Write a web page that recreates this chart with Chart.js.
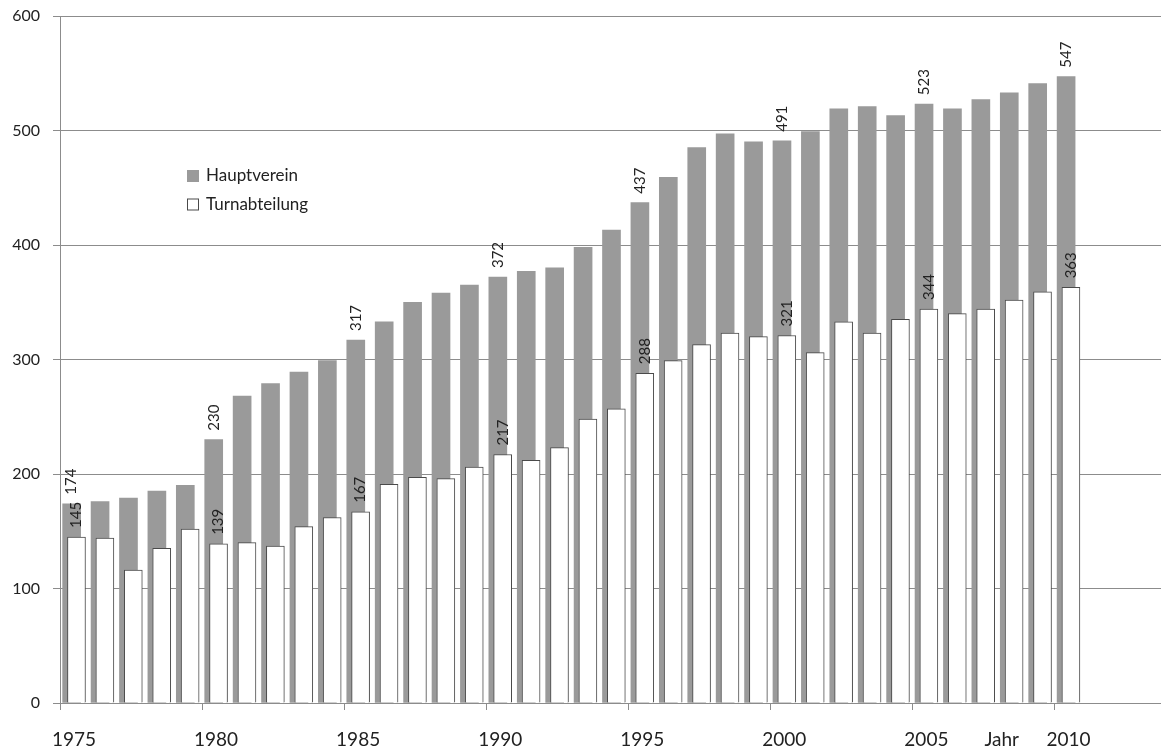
<!DOCTYPE html>
<html lang="de">
<head>
<meta charset="utf-8">
<title>Hauptverein und Turnabteilung 1975–2010</title>
<script src="https://cdn.jsdelivr.net/npm/chart.js@4/dist/chart.umd.min.js"></script>
<style>
  html, body { margin: 0; background: #fff; }
  #wrap { width: 1161px; height: 750px; }
</style>
</head>
<body>
<div id="wrap"><canvas id="chart"></canvas></div>
<script>
// Jahre und Mitgliederzahlen
const years = [1975, 1976, 1977, 1978, 1979, 1980, 1981, 1982, 1983, 1984,
               1985, 1986, 1987, 1988, 1989, 1990, 1991, 1992, 1993, 1994,
               1995, 1996, 1997, 1998, 1999, 2000, 2001, 2002, 2003, 2004,
               2005, 2006, 2007, 2008, 2009, 2010];
const hauptverein = [174, 176, 179, 185, 190, 230, 268, 279, 289, 299,
                     317, 333, 350, 358, 365, 372, 377, 380, 398, 413,
                     437, 459, 485, 497, 490, 491, 499, 519, 521, 513,
                     523, 519, 527, 533, 541, 547];
const turnabteilung = [145, 144, 116, 135, 152, 139, 140, 137, 154, 162,
                       167, 191, 197, 196, 206, 217, 212, 223, 248, 257,
                       288, 299, 313, 323, 320, 321, 306, 333, 323, 335,
                       344, 340, 344, 352, 359, 363];
// Jahre mit Zahlenbeschriftung und Achsenbeschriftung
const labelledYears = [1975, 1980, 1985, 1990, 1995, 2000, 2005, 2010];
const yTicks = [0, 100, 200, 300, 400, 500, 600];
const axisTitle = 'Jahr';

// Darstellung
const FONT = 'Lato, "Open Sans", sans-serif';
const GRAY = '#9a9a9a';
const LINE = '#8c8c8c';
const jahrPos = 2007.65;   // Stelle der Achsenbeschriftung "Jahr"
const xMax = 2013.75;

// Balken als {x, y}: Balken sitzen innerhalb des Jahresintervalls
const grayData = years.map((y, i) => ({ x: y + 0.41, y: hauptverein[i] }));
const whiteData = years.map((y, i) => ({ x: y + 0.58, y: turnabteilung[i] }));

// Zahlen senkrecht über ausgewählten Balken
const valueLabels = {
  id: 'valueLabels',
  afterDatasetsDraw(chart) {
    const ctx = chart.ctx;
    ctx.save();
    ctx.font = '15px ' + FONT;
    ctx.fillStyle = '#222';
    ctx.textAlign = 'left';
    ctx.textBaseline = 'middle';
    chart.data.datasets.forEach((ds, di) => {
      const meta = chart.getDatasetMeta(di);
      meta.data.forEach((bar, i) => {
        if (!labelledYears.includes(years[i])) return;
        ctx.save();
        ctx.translate(bar.x, bar.y - 9);
        ctx.rotate(-Math.PI / 2);
        ctx.fillText(String(ds.data[i].y), 0, 0);
        ctx.restore();
      });
    });
    ctx.restore();
  }
};

// Legende innerhalb der Zeichenfläche
const innerLegend = {
  id: 'innerLegend',
  afterDraw(chart) {
    const { ctx, chartArea } = chart;
    const x = chartArea.left + 127;
    const y0 = chartArea.top + 160;
    ctx.save();
    ctx.font = '17px ' + FONT;
    ctx.textBaseline = 'middle';
    chart.data.datasets.forEach((ds, i) => {
      const y = y0 + i * 28.5;
      ctx.fillStyle = ds.backgroundColor;
      ctx.fillRect(x, y - 6, 12, 12);
      if (ds.borderWidth) {
        ctx.strokeStyle = ds.borderColor;
        ctx.lineWidth = 1;
        ctx.strokeRect(x + 0.5, y - 5.5, 11, 11);
      }
      ctx.fillStyle = '#222';
      ctx.fillText(ds.label, x + 19, y);
    });
    ctx.restore();
  }
};

new Chart(document.getElementById('chart'), {
  type: 'bar',
  data: {
    datasets: [{
      label: 'Hauptverein',
      data: grayData,
      backgroundColor: GRAY,
      borderWidth: 0,
      order: 2
    }, {
      label: 'Turnabteilung',
      data: whiteData,
      backgroundColor: '#ffffff',
      borderColor: '#4a4a4a',
      borderWidth: 1,
      order: 1
    }]
  },
  options: {
    responsive: true,
    maintainAspectRatio: false,
    animation: false,
    grouped: false,
    barThickness: 18,
    layout: { padding: { top: 16, right: 0, bottom: 0, left: 0 } },
    plugins: {
      legend: { display: false },
      tooltip: { enabled: false }
    },
    scales: {
      x: {
        type: 'linear',
        min: 1975,
        max: xMax,
        offset: false,
        afterBuildTicks(scale) {
          const vals = labelledYears.concat([jahrPos]).sort((a, b) => a - b);
          scale.ticks = vals.map(v => ({ value: v }));
        },
        afterFit(scale) { scale.height = 47; },
        grid: {
          offset: false,
          drawOnChartArea: false,
          drawTicks: true,
          tickLength: 7,
          color: ctx => (ctx.tick && ctx.tick.value === jahrPos) ? 'rgba(0,0,0,0)' : LINE
        },
        border: { color: LINE },
        ticks: {
          autoSkip: false,
          maxRotation: 0,
          labelOffset: 14,
          padding: 18,
          color: '#222',
          font: { family: FONT, size: 19 },
          callback: v => v === jahrPos ? axisTitle : String(v)
        }
      },
      y: {
        min: 0,
        max: 600,
        afterBuildTicks(scale) {
          scale.ticks = yTicks.map(v => ({ value: v }));
        },
        afterFit(scale) {
          scale.width = 60;
          scale.paddingTop = 0;
          scale.paddingBottom = 0;
        },
        grid: { color: LINE, tickLength: 7 },
        border: { color: LINE },
        ticks: {
          padding: 13,
          color: '#222',
          font: { family: FONT, size: 16 }
        }
      }
    }
  },
  plugins: [valueLabels, innerLegend]
});
</script>
</body>
</html>
